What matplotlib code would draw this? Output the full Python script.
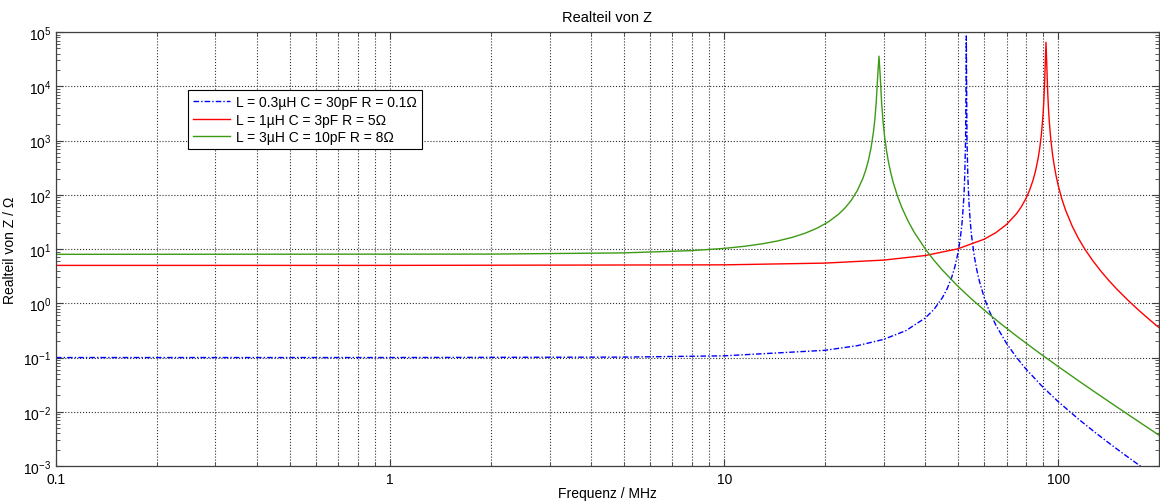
import matplotlib
matplotlib.use("Agg")
import matplotlib.pyplot as plt
from matplotlib.ticker import LogLocator, FixedLocator, FixedFormatter, NullFormatter

plt.rcParams['font.family'] = ['Liberation Sans', 'DejaVu Sans']
plt.rcParams['mathtext.fontset'] = 'custom'
plt.rcParams['mathtext.rm'] = 'Liberation Sans'
plt.rcParams['mathtext.it'] = 'Liberation Sans'

f_blue = [0.1, 1, 5, 10, 20, 25, 30, 35, 40, 42.5, 45, 46.5, 48, 49, 50, 50.5, 51,
          51.5, 52, 52.25, 52.5, 52.8, 53.0, 53.05, 53.3, 53.6, 54, 54.5, 55, 56,
          57, 58, 60, 62, 65, 70, 75, 80, 90, 100, 115, 130, 145, 160, 180, 200]
z_blue = [0.1, 0.10004, 0.1018, 0.1075, 0.1359, 0.1652, 0.2161, 0.3136, 0.537,
          0.779, 1.272, 1.863, 3.042, 4.64, 8.01, 11.36, 17.45, 30.1, 65.1, 111.6,
          235, 1121, 22070, 85000, 1110, 230, 76.6, 32.6, 17.8, 7.66, 4.19, 2.62,
          1.283, 0.747, 0.398, 0.182, 0.1003, 0.0616, 0.02835, 0.01534, 0.00731,
          0.00399, 0.002388, 0.001526, 0.000905, 0.000573]

f_red = [0.1, 1, 10, 20, 30, 40, 50, 60, 65, 70, 75, 77.5, 80, 82, 84, 85.5, 87, 88,
         89, 90, 90.5, 91, 91.3, 91.89, 92.5, 93, 93.5, 94, 95, 96, 97, 98.5, 100,
         102.5, 105, 110, 115, 120, 127, 135, 142, 150, 162, 175, 187, 200]
z_red = [5.0, 5.001, 5.12, 5.51, 6.26, 7.61, 10.09, 15.19, 20.03, 28.4, 44.9, 60.0,
         85.3, 120.3, 184.7, 276.5, 463, 721, 1281, 2890, 5128, 11218, 21000, 65000,
         19750, 7491, 3766, 2237, 1038, 592, 382, 225, 147.2, 83.8, 53.5, 26.7,
         15.59, 10.05, 6.04, 3.73, 2.595, 1.804, 1.125, 0.7246, 0.5066, 0.358]

f_green = [0.1, 2, 5, 8, 10, 11.5, 13, 14.5, 16, 17.5, 19, 20.5, 22, 23, 24, 25, 26,
           26.5, 27, 27.5, 28, 28.25, 28.5, 28.8, 29.06, 29.3, 29.6, 29.9, 30.2,
           30.6, 31, 31.5, 32, 33, 34, 35.5, 37, 40, 42.5, 45, 50, 55, 60, 67, 75,
           87, 100, 115, 130, 160, 180, 200]
z_green = [8.0, 8.08, 8.50, 9.37, 10.29, 11.25, 12.50, 14.18, 16.47, 19.69, 24.4,
           31.7, 43.9, 57.3, 79.0, 118.2, 200, 280.3, 424, 720, 1501, 2481, 4813,
           15180, 36000, 16260, 4914, 2182, 1207, 663, 415, 259, 176, 95.4, 58.8,
           33.0, 20.7, 10.0, 6.17, 4.09, 2.08, 1.200, 0.751, 0.4295, 0.2496, 0.1262,
           0.0681, 0.03722, 0.02213, 0.00931, 0.00573, 0.00372]

labels = ['L = 0.3\u00b5H C = 30pF R = 0.1\u03a9',
          'L = 1\u00b5H C = 3pF R = 5\u03a9',
          'L = 3\u00b5H C = 10pF R = 8\u03a9']
x_ticks = [0.1, 1, 10, 100]
x_ticklabels = ['0.1', '1', '10', '100']

fig = plt.figure(figsize=(11.6, 5.02), dpi=100)
ax = fig.add_axes([0.0483, 0.0697, 0.9507, 0.8643])

ax.plot(f_blue, z_blue, color='#0000ff', linestyle=(0, (4, 1.5, 1, 1.5)),
        linewidth=1.0, label=labels[0])
ax.plot(f_red, z_red, color='#ff0000', linestyle='-', linewidth=1.0, label=labels[1])
ax.plot(f_green, z_green, color='#3c9a14', linestyle='-', linewidth=1.0, label=labels[2])

ax.set_xscale('log')
ax.set_yscale('log')
ax.set_xlim(0.1, 200)
ax.set_ylim(1e-3, 1e5)

ax.xaxis.set_major_locator(FixedLocator(x_ticks))
ax.xaxis.set_major_formatter(FixedFormatter(x_ticklabels))
ax.xaxis.set_minor_locator(LogLocator(base=10, subs=range(2, 10), numticks=20))
ax.xaxis.set_minor_formatter(NullFormatter())
ax.yaxis.set_major_locator(LogLocator(base=10, numticks=20))
ax.yaxis.set_minor_locator(LogLocator(base=10, subs=range(2, 10), numticks=20))
ax.yaxis.set_minor_formatter(NullFormatter())

ax.tick_params(which='both', direction='in', top=True, right=True, labelsize=10,
               color='#404040')
ax.tick_params(which='major', length=5, width=0.8)
ax.tick_params(which='minor', length=3, width=0.6)
ax.tick_params(axis='x', which='major', pad=4)

ax.grid(True, which='major', axis='both', linestyle=':', color='#303030', linewidth=0.8)
ax.grid(True, which='minor', axis='x', linestyle=':', color='#303030', linewidth=0.8)

for s in ax.spines.values():
    s.set_color('#404040')
    s.set_linewidth(0.9)

ax.set_title('Realteil von Z', fontsize=10.5, pad=8)
ax.set_xlabel('Frequenz / MHz', fontsize=10, labelpad=0)
ax.set_ylabel('Realteil von Z / \u03a9', fontsize=10, labelpad=4)

leg = ax.legend(loc='upper left', bbox_to_anchor=(0.1197, 0.866), borderaxespad=0,
                fontsize=10, frameon=True, fancybox=False, edgecolor='black',
                framealpha=1, handlelength=2.7, handletextpad=0.4,
                labelspacing=0.25, borderpad=0.35)
leg.get_frame().set_linewidth(0.8)

fig.savefig('out.png', dpi=100)
